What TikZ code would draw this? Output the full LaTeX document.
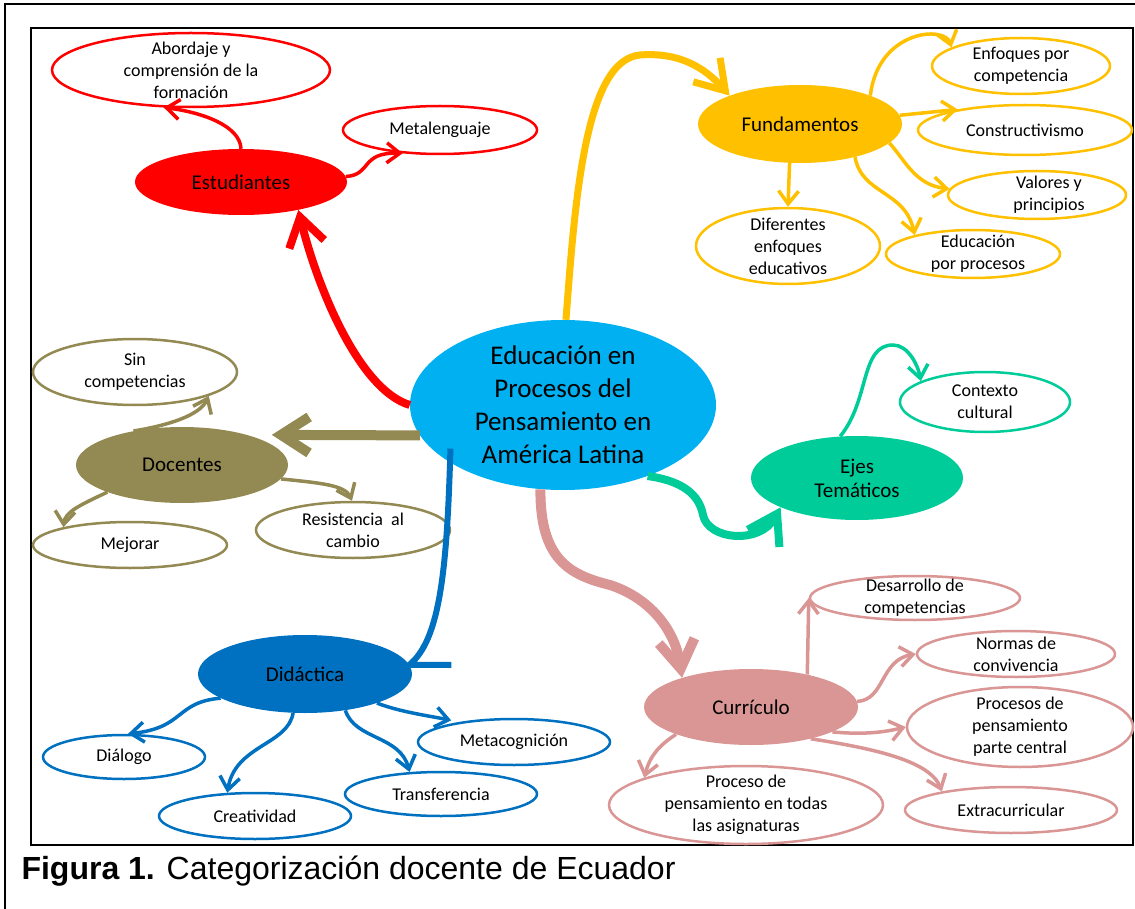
\documentclass[tikz,border=0pt]{standalone}
\usepackage{fontspec}
\setmainfont{Carlito}
\newfontfamily\captionfont{Liberation Sans}
\usetikzlibrary{arrows.meta}
\usetikzlibrary{shapes}

\definecolor{cyanC}{RGB}{0,176,240}
\definecolor{redC}{RGB}{255,0,0}
\definecolor{yellowC}{RGB}{255,192,0}
\definecolor{oliveC}{RGB}{147,137,83}
\definecolor{blueC}{RGB}{0,112,192}
\definecolor{pinkC}{RGB}{217,150,148}
\definecolor{greenC}{RGB}{0,204,153}

\begin{document}
\begin{tikzpicture}[x = 1pt, y = -1pt]
	\tikzstyle{mainStyle} = [shape = ellipse, inner sep = 0pt, fill = cyanC, minimum width = 306pt, minimum height = 170pt]
	\tikzstyle{catStyle} = [shape = ellipse, inner sep = 0pt]
	\tikzstyle{leafStyle} = [shape = ellipse, inner sep = 0pt, draw, line width = 2.5pt, fill = white]
	\tikzstyle{mainText} = [font = \fontsize{27}{33}\selectfont, align = center]
	\tikzstyle{catText} = [font = \fontsize{21}{24}\selectfont, align = center]
	\tikzstyle{leafText} = [font = \fontsize{18}{22}\selectfont, align = center]
	\tikzstyle{mainArrow} = [line width = 8pt, -{Straight Barb[length = 28pt, width = 36pt]}]
	\tikzstyle{subArrow} = [line width = 3.5pt, -{Straight Barb[length = 13pt, width = 20pt]}]
	\useasboundingbox (0,0) rectangle (1135,909);
	\clip (0,0) rectangle (1135,909);
	% frames
	\draw[line width = 1.5pt] (5,920) -- (5,4) -- (1145,4);
	\draw[line width = 1.5pt] (31,28) rectangle (1133,845);
	% centre
	\node[mainStyle, label = {[mainText]center:Educación en\\Procesos del\\Pensamiento en\\América Latina}] (centro) at (563,405) {};
	% categories
	\node[catStyle, fill = redC, minimum width = 212pt, minimum height = 66pt, label = {[catText]center:Estudiantes}] (estudiantes) at (241,182) {};
	\node[catStyle, fill = yellowC, minimum width = 204pt, minimum height = 78pt, label = {[catText]center:Fundamentos}] (fundamentos) at (800,124) {};
	\node[catStyle, fill = greenC, minimum width = 212pt, minimum height = 84pt, label = {[catText]center:Ejes\\Temáticos}] (ejes) at (857,478) {};
	\node[catStyle, fill = oliveC, minimum width = 212pt, minimum height = 76pt, label = {[catText]center:Docentes}] (docentes) at (182,465) {};
	\node[catStyle, fill = blueC, minimum width = 214pt, minimum height = 78pt, label = {[catText]center:Didáctica}] (didactica) at (305,674) {};
	\node[catStyle, fill = pinkC, minimum width = 214pt, minimum height = 76pt, label = {[catText]center:Currículo}] (curriculo) at (751,707) {};
	% leaves
	\node[leafStyle, draw = redC, minimum width = 278pt, minimum height = 74pt, label = {[leafText]center:Abordaje y\\comprensión de la\\formación}] (abordaje) at (191,70) {};
	\node[leafStyle, draw = redC, minimum width = 194pt, minimum height = 48pt, label = {[leafText]center:Metalenguaje}] (metalenguaje) at (440,130) {};
	\node[leafStyle, draw = yellowC, minimum width = 178pt, minimum height = 56pt, label = {[leafText]center:Enfoques por\\competencia}] (enfoques) at (1021,66) {};
	\node[leafStyle, draw = yellowC, minimum width = 214pt, minimum height = 50pt, label = {[leafText]center:Constructivismo}] (constructivismo) at (1025,130) {};
	\node[leafStyle, draw = yellowC, minimum width = 178pt, minimum height = 48pt, label = {[leafText, xshift = 12pt]center:Valores y\\principios}] (valores) at (1037,195) {};
	\node[leafStyle, draw = yellowC, minimum width = 174pt, minimum height = 48pt, label = {[leafText, xshift = 5pt]center:Educación\\por procesos}] (porprocesos) at (973,254) {};
	\node[leafStyle, draw = yellowC, minimum width = 184pt, minimum height = 76pt, label = {[leafText]center:Diferentes\\enfoques\\educativos}] (diferentes) at (788,246) {};
	\node[leafStyle, draw = greenC, minimum width = 170pt, minimum height = 60pt, label = {[leafText]center:Contexto\\cultural}] (contexto) at (985,402) {};
	\node[leafStyle, draw = oliveC, minimum width = 204pt, minimum height = 66pt, label = {[leafText]center:Sin\\competencias}] (sincompetencias) at (135,372) {};
	\node[leafStyle, draw = oliveC, minimum width = 194pt, minimum height = 46pt, label = {[leafText]center:Mejorar}] (mejorar) at (130,545) {};
	\node[leafStyle, draw = oliveC, minimum width = 194pt, minimum height = 56pt, label = {[leafText]center:Resistencia\ \ al\\cambio}] (resistencia) at (353,530) {};
	\node[leafStyle, draw = blueC, minimum width = 162pt, minimum height = 44pt, label = {[leafText]center:Diálogo}] (dialogo) at (124,757) {};
	\node[leafStyle, draw = blueC, minimum width = 192pt, minimum height = 46pt, label = {[leafText]center:Creatividad}] (creatividad) at (255,816) {};
	\node[leafStyle, draw = blueC, minimum width = 192pt, minimum height = 44pt, label = {[leafText]center:Transferencia}] (transferencia) at (441,794) {};
	\node[leafStyle, draw = blueC, minimum width = 192pt, minimum height = 46pt, label = {[leafText]center:Metacognición}] (metacognicion) at (514,742) {};
	\node[leafStyle, draw = pinkC, minimum width = 210pt, minimum height = 44pt, label = {[leafText]center:Desarrollo de\\competencias}] (desarrollo) at (915,598) {};
	\node[leafStyle, draw = pinkC, minimum width = 198pt, minimum height = 46pt, label = {[leafText]center:Normas de\\convivencia}] (normas) at (1016,654) {};
	\node[leafStyle, draw = pinkC, minimum width = 226pt, minimum height = 80pt, label = {[leafText]center:Procesos de\\pensamiento\\parte central}] (procesos) at (1020,727) {};
	\node[leafStyle, draw = pinkC, minimum width = 212pt, minimum height = 46pt, label = {[leafText]center:Extracurricular}] (extracurricular) at (1011,810) {};
	\node[leafStyle, draw = pinkC, minimum width = 274pt, minimum height = 78pt, label = {[leafText]center:Proceso de\\pensamiento en todas\\las asignaturas}] (asignaturas) at (746,805) {};
	% main branches
	\draw[mainArrow, redC] (centro.180) .. controls (360,390) and (318,290) .. (estudiantes.334);
	\draw[mainArrow, yellowC, line width = 7pt] (centro.88) .. controls (575,200) and (585,60) .. (640,55) .. controls (680,52) and (705,68) .. (fundamentos.158);
	\draw[mainArrow, oliveC, line width = 10pt, shorten > = 25pt] (centro.192) -- (docentes.25);
	\draw[line width = 6pt, blueC, shorten < = -14pt] (centro.207) .. controls (447,570) and (440,640) .. (didactica.5) -- ++(42,0);
	\draw[mainArrow, pinkC, line width = 10pt] (centro.255) .. controls (540,560) and (570,575) .. (610,585) .. controls (650,598) and (675,630) .. (curriculo.157);
	\draw[mainArrow, greenC] (centro.320) .. controls (690,482) and (700,500) .. (703,515) .. controls (708,540) and (760,545) .. (ejes.201);
	% Estudiantes
	\draw[subArrow, redC] (estudiantes.90) .. controls (240,125) and (200,112) .. (abordaje.234);
	\draw[subArrow, redC] (estudiantes.3) .. controls (372,175) and (360,152) .. (metalenguaje.212);
	% Fundamentos
	\draw[subArrow, yellowC] (fundamentos.22) .. controls (878,30) and (945,25) .. (enfoques.165);
	\draw[subArrow, yellowC] (fundamentos.5) -- (constructivismo.163);
	\draw[subArrow, yellowC] (fundamentos.348) .. controls (905,160) and (915,185) .. (valores.176);
	\draw[subArrow, yellowC] (fundamentos.329) .. controls (862,195) and (905,190) .. (porprocesos.162);
	\draw[subArrow, yellowC] (fundamentos.255) -- (diferentes.90);
	% Ejes
	\draw[subArrow, greenC] (ejes.112) .. controls (870,400) and (860,345) .. (893,345) .. controls (908,345) and (918,365) .. (contexto.162);
	% Docentes
	\draw[subArrow, oliveC] (docentes.145) .. controls (170,425) and (200,415) .. (sincompetencias.342);
	\draw[subArrow, oliveC] (docentes.200) .. controls (80,505) and (65,512) .. (mejorar.165);
	\draw[subArrow, oliveC] (docentes.352) .. controls (320,483) and (345,485) .. (resistencia.92);
	% Didactica
	\draw[subArrow, blueC] (didactica.196) .. controls (175,702) and (185,728) .. (dialogo.80);
	\draw[subArrow, blueC] (didactica.253) .. controls (288,745) and (235,745) .. (creatividad.140);
	\draw[subArrow, blueC] (didactica.318) .. controls (355,740) and (400,735) .. (transferencia.145);
	\draw[subArrow, blueC, shorten > = 8pt] (didactica.338) .. controls (400,712) and (430,716) .. (metacognicion.160);
	% Curriculo
	\draw[subArrow, pinkC] (curriculo.30) -- (desarrollo.180);
	\draw[subArrow, pinkC] (curriculo.3) .. controls (885,700) and (880,660) .. (normas.180);
	\draw[subArrow, pinkC] (curriculo.343) .. controls (865,735) and (885,732) .. (procesos.180);
	\draw[subArrow, pinkC] (curriculo.332) .. controls (870,748) and (930,760) .. (extracurricular.165);
	\draw[subArrow, pinkC] (curriculo.200) .. controls (660,745) and (650,755) .. (asignaturas.165);
	% caption
	\node[anchor = base west, font = \captionfont\fontsize{32}{38}\selectfont] (caption) at (18,879) {\textbf{Figura 1.} Categorización docente de Ecuador};
\end{tikzpicture}
\end{document}
